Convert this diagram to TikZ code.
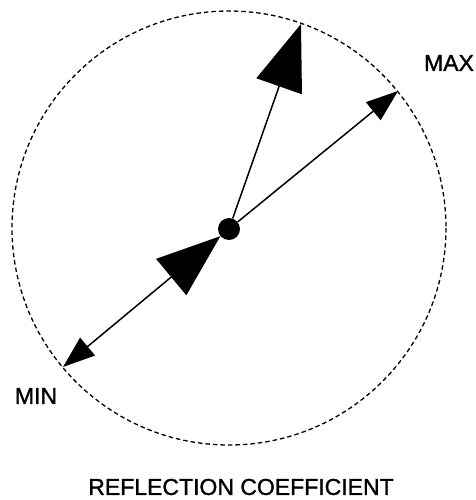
\documentclass[tikz,border=0pt]{standalone}
\usepackage{fontspec}
\setmainfont{Liberation Sans}
\newfontfamily\lblfont{Liberation Sans}[UprightFeatures={FakeBold=1.3}]
\usetikzlibrary{arrows.meta}
\begin{document}
\begin{tikzpicture}[x=1pt,y=-1pt,
  lbl/.style={font=\fontsize{23}{27}\lblfont, inner sep=0pt, anchor=center},
  ray/.style={line width=1.5pt},
  dot/.style={circle, fill=black, inner sep=0pt, minimum size=22pt},
  rim/.style={dashed, dash pattern=on 4.5pt off 3pt, line width=1.3pt}]
\useasboundingbox (0,0) rectangle (475,500);
\draw[rim] (229,228) circle[radius=217];
\node[dot] (c) at (229,229) {};
\coordinate (max) at (398,91);
\coordinate (min) at (63,367);
\coordinate (top) at (301,24);
\draw[ray, arrows={-Triangle[length=32pt,width=23pt]}] (c) -- (max);
\draw[ray, arrows={Triangle[length=64pt,width=47pt]-Triangle[length=32pt,width=23pt]}] (c) -- (min);
\draw[ray, arrows={-Triangle[length=66pt,width=48pt]}] (c) -- (top);
\node[lbl] (lmax) at (449,63) {MAX};
\node[lbl] (lmin) at (36,396) {MIN};
\node[lbl] (title) at (241,487) {REFLECTION COEFFICIENT};
\end{tikzpicture}
\end{document}
